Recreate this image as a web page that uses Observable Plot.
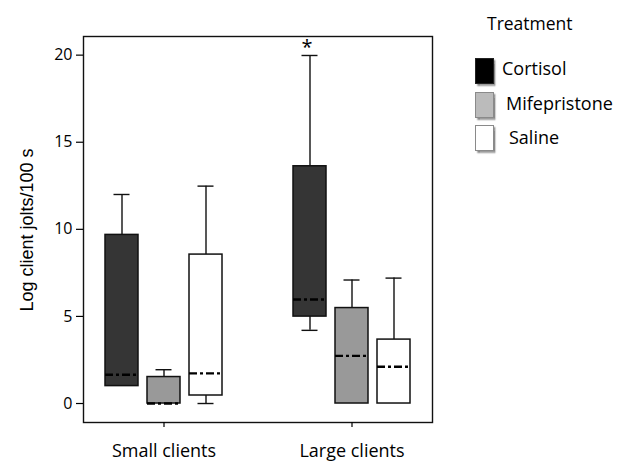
<!DOCTYPE html>
<html><head><meta charset="utf-8">
<script src="https://cdn.jsdelivr.net/npm/d3@7"></script>
<script src="https://cdn.jsdelivr.net/npm/@observablehq/plot@0.6"></script>
<style>
body{margin:0;background:#fff;}
#wrap{position:relative;width:629px;height:462px;font-family:"Open Sans",sans-serif;color:#000;}
#wrap svg{position:absolute;left:0;top:0;}
.ylab{position:absolute;left:26.5px;top:230px;transform:translate(-50%,-50%) rotate(-90deg);font-family:"Liberation Sans",Arial,sans-serif;font-size:18px;white-space:nowrap;}
.ltitle{position:absolute;left:487px;top:10.5px;font-size:17.5px;white-space:nowrap;}
.sw{position:absolute;left:475px;width:19px;height:26px;box-sizing:border-box;box-shadow:1.5px 2px 1.5px #8a8a8a;}
.lab{position:absolute;font-size:18px;white-space:nowrap;}
</style></head><body><div id="wrap"></div>
<script>
// categories
const groups = ["Small clients", "Large clients"];
const treatments = ["Cortisol", "Mifepristone", "Saline"];
// box-plot statistics, order: Small(Cortisol, Mifepristone, Saline), Large(Cortisol, Mifepristone, Saline)
const whiskerLow  = [1.0, 0, 0,    4.2, 0, 0];
const q1          = [1.0, 0, 0.46, 4.99, 0, 0];
const median      = [1.65, 0, 1.73, 5.97, 2.74, 2.11];
const q3          = [9.68, 1.52, 8.55, 13.62, 5.48, 3.67];
const whiskerHigh = [12.0, 1.94, 12.48, 19.98, 7.09, 7.2];
// significance marks
const starGroup = ["Large clients"];
const starTreatment = ["Cortisol"];
// ticks
const yTicks = [0, 5, 10, 15, 20];
// colours
const boxFill = ["#353535", "#999999", "#ffffff"];
const legendFill = ["#000000", "#bbbbbb", "#ffffff"];
const legendBorder = ["#222222", "#8a8a8a", "#8a8a8a"];

const rows = groups.flatMap((g, gi) => treatments.map((t, ti) => {
  const i = gi * treatments.length + ti;
  return {group: g, treatment: t, lo: whiskerLow[i], q1: q1[i], med: median[i], q3: q3[i], hi: whiskerHigh[i]};
}));
const stars = rows.filter(d => starGroup.some((g, k) => g === d.group && starTreatment[k] === d.treatment));

// dodge layout inside each group band (band width 126 px)
const bandW = 126, boxStep = 42, boxW = 34, capW = 17;
const boxInset = (bandW - boxW) / 2, capInset = (bandW - capW) / 2;
const line = {stroke: "#111", strokeWidth: 1.4};

const boxMarks = treatments.flatMap((t, i) => {
  const data = rows.filter(d => d.treatment === t);
  const low = data.filter(d => d.lo < d.q1);
  const dx = (i - (treatments.length - 1) / 2) * boxStep;
  return [
    Plot.ruleX(data, {x: "group", y1: "q3", y2: "hi", dx, ...line}),
    Plot.ruleX(low, {x: "group", y1: "lo", y2: "q1", dx, ...line}),
    Plot.tickY(data, {x: "group", y: "hi", dx, insetLeft: capInset, insetRight: capInset, ...line}),
    Plot.tickY(low, {x: "group", y: "lo", dx, insetLeft: capInset, insetRight: capInset, ...line}),
    Plot.barY(data, {x: "group", y1: "q1", y2: "q3", dx, insetLeft: boxInset, insetRight: boxInset, fill: "treatment", stroke: "#111", strokeWidth: 1.5}),
    Plot.tickY(data, {x: "group", y: "med", dx, insetLeft: boxInset, insetRight: boxInset, stroke: "#000", strokeWidth: 2.3, strokeDasharray: "8,3,3,3"}),
    Plot.text(stars.filter(d => d.treatment === t), {x: "group", y: "hi", text: () => "*", dx: dx - 3, dy: -8, fontSize: 20, fill: "#000"})
  ];
});

const chart = Plot.plot({
  width: 629, height: 462,
  marginLeft: 83, marginRight: 197, marginTop: 36, marginBottom: 40,
  style: {fontFamily: "Open Sans", fontSize: "16px", color: "#000", background: "transparent", overflow: "visible"},
  x: {domain: groups, paddingInner: 1/3, paddingOuter: 0.09, label: null},
  y: {domain: [-1.09, 21.07], label: null},
  color: {domain: treatments, range: boxFill},
  marks: [
    Plot.frame({stroke: "#111", strokeWidth: 1.4}),
    Plot.axisY({ticks: yTicks, tickSize: 7, tickPadding: 4, label: null, fontSize: 16, strokeWidth: 1.2}),
    Plot.axisX({tickSize: 5, tickPadding: 17, label: null, fontSize: 18, strokeWidth: 1.2}),
    ...boxMarks
  ]
});

const wrap = document.getElementById("wrap");
wrap.appendChild(chart);

const yl = document.createElement("div");
yl.className = "ylab"; yl.textContent = "Log client jolts/100 s";
wrap.appendChild(yl);

const lt = document.createElement("div");
lt.className = "ltitle"; lt.textContent = "Treatment";
wrap.appendChild(lt);

const swTop = [58, 91.5, 125];
const labTop = [55.5, 90.5, 124.7];
const labLeft = [502, 506, 509];
treatments.forEach((t, i) => {
  const s = document.createElement("div");
  s.className = "sw";
  s.style.top = swTop[i] + "px";
  s.style.background = legendFill[i];
  s.style.border = "1px solid " + legendBorder[i];
  wrap.appendChild(s);
  const l = document.createElement("div");
  l.className = "lab";
  l.style.top = labTop[i] + "px";
  l.style.left = labLeft[i] + "px";
  l.textContent = t;
  wrap.appendChild(l);
});
</script></body></html>
